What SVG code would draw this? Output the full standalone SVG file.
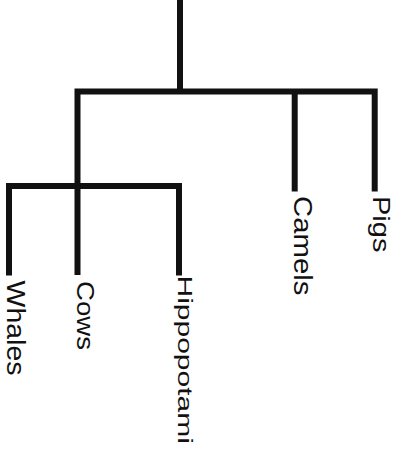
<svg xmlns="http://www.w3.org/2000/svg" width="396" height="449" viewBox="0 0 396 449">
  <style>
    .edge { fill: none; stroke: #111; stroke-width: 6; stroke-linejoin: miter; stroke-linecap: butt; }
    .label { font-family: "Liberation Sans", Arial, sans-serif; fill: #111; }
  </style>
  <rect width="396" height="449" fill="#fff"/>

  <!-- tree branches -->
  <g id="connectors">
    <path class="edge" d="M180,0 V91.5"/>
    <path class="edge" d="M77.5,275 V91.5 H374.7 V191.5"/>
    <path class="edge" d="M294.7,91.5 V191.5"/>
    <path class="edge" d="M9,275.5 V186 H179 V275.5"/>
  </g>

  <!-- leaf labels, rotated to read downward -->
  <g id="whales">
    <text class="label" font-size="25" transform="translate(6.5,280.5) rotate(90) scale(1.14,1)">Whales</text>
  </g>
  <g id="cows">
    <text class="label" font-size="23" transform="translate(77,281) rotate(90) scale(1.2,1)">Cows</text>
  </g>
  <g id="hippopotami">
    <text class="label" font-size="20" transform="translate(178,275.5) rotate(90) scale(1.5,1)">Hippopotami</text>
  </g>
  <g id="camels">
    <text class="label" font-size="25.5" transform="translate(293.5,196) rotate(90) scale(1.15,1)">Camels</text>
  </g>
  <g id="pigs">
    <text class="label" font-size="23" transform="translate(372.5,196) rotate(90) scale(1.26,1)">Pigs</text>
  </g>
</svg>
